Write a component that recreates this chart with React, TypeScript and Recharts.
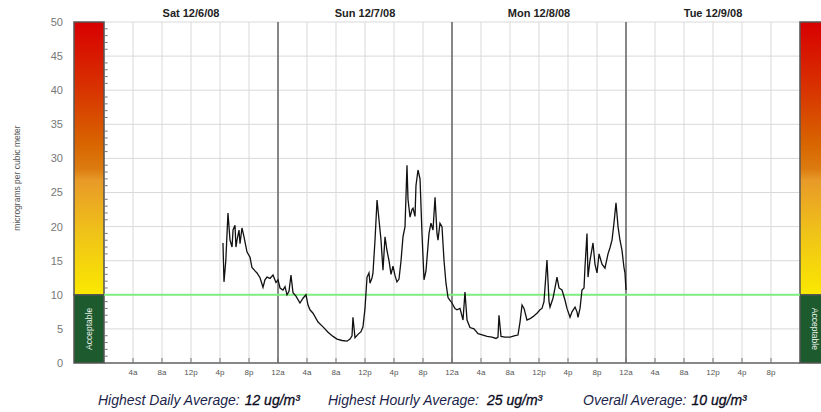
import React from "react";
import {
  ComposedChart,
  Line,
  XAxis,
  YAxis,
  CartesianGrid,
  ReferenceLine,
  ReferenceArea,
} from "recharts";

// ---- data ----
const hours = [
  16.41, 16.55, 16.8, 17.1, 17.38, 17.66, 17.8, 18.07, 18.2, 18.34, 18.62, 18.76, 19.03, 19.31, 19.72,
  20.14, 20.41, 20.83, 21.1, 21.52, 21.93, 22.2, 22.48, 22.9, 23.31, 23.72, 24.0, 24.28, 24.69, 24.97,
  25.24, 25.52, 25.79, 26.07, 26.48, 27.03, 27.45, 27.86, 28.14, 28.41, 28.83, 29.52, 30.21, 30.9, 31.59,
  32.14, 32.83, 33.52, 33.93, 34.21, 34.34, 34.62, 35.03, 35.45, 35.72, 36.0, 36.28, 36.55, 36.69, 36.97,
  37.1, 37.38, 37.66, 37.93, 38.21, 38.48, 38.76, 39.03, 39.31, 39.59, 39.86, 40.14, 40.41, 40.69, 40.97,
  41.24, 41.52, 41.79, 41.93, 42.21, 42.48, 42.62, 42.9, 43.03, 43.31, 43.59, 43.86, 44.14, 44.41, 44.83,
  45.1, 45.38, 45.66, 45.93, 46.07, 46.34, 46.62, 46.9, 47.17, 47.45, 47.72, 48.0, 48.41, 48.69, 49.1,
  49.52, 49.79, 50.07, 50.48, 51.03, 51.59, 52.28, 52.83, 53.52, 54.07, 54.34, 54.48, 54.76, 55.31, 56.0,
  56.69, 57.1, 57.38, 57.66, 57.93, 58.34, 58.76, 59.17, 59.72, 60.14, 60.41, 60.69, 61.1, 61.38, 61.52,
  61.93, 62.21, 62.48, 62.76, 63.17, 63.59, 63.86, 64.28, 64.55, 64.97, 65.24, 65.38, 65.66, 65.93, 66.21,
  66.34, 66.62, 66.76, 67.03, 67.45, 67.72, 68.0, 68.28, 68.41, 68.69, 69.1, 69.52, 69.79, 70.07, 70.34,
  70.62, 70.9, 71.17, 71.45, 71.72, 71.86, 72.0,
];
const pm25 = [
  17.6, 11.9, 15.0, 22.0, 18.0, 17.0, 19.5, 20.2, 17.0, 18.0, 19.5, 17.5, 19.8, 18.5, 16.3,
  15.5, 14.0, 13.5, 13.2, 12.5, 11.1, 12.2, 12.6, 12.4, 12.9, 11.8, 12.2, 11.0, 10.7, 11.2,
  10.0, 10.5, 12.9, 10.3, 9.8, 8.8, 9.5, 10.0, 8.5, 7.8, 7.3, 6.0, 5.3, 4.5, 3.9,
  3.5, 3.3, 3.2, 3.5, 4.0, 6.7, 3.7, 4.2, 4.6, 5.3, 8.0, 12.6, 13.2, 11.7, 12.5,
  13.2, 18.0, 23.9, 21.0, 18.0, 13.6, 18.5, 16.5, 15.0, 13.0, 14.2, 12.8, 11.9, 12.3, 15.0,
  18.5, 20.0, 29.0, 24.0, 21.4, 22.5, 22.7, 21.5, 26.0, 28.3, 27.0, 19.0, 12.2, 13.5, 19.0,
  20.5, 19.5, 24.3, 19.0, 18.0, 20.5, 20.0, 15.0, 11.7, 9.6, 9.2, 8.8, 8.0, 7.8, 8.0,
  6.3, 10.4, 6.3, 5.2, 5.0, 4.3, 4.1, 3.9, 3.8, 3.6, 3.8, 7.0, 3.9, 3.8, 3.8,
  4.0, 4.1, 6.0, 8.5, 8.0, 6.3, 6.5, 6.8, 7.3, 7.8, 8.0, 9.0, 15.1, 9.0, 8.2,
  9.5, 11.0, 12.6, 11.0, 10.7, 9.2, 8.0, 6.7, 7.5, 8.2, 7.5, 6.7, 8.0, 10.7, 11.0,
  14.0, 19.0, 12.6, 15.0, 17.6, 14.5, 13.2, 16.0, 15.5, 14.5, 13.9, 16.0, 16.9, 18.0, 20.5,
  23.5, 20.0, 18.0, 16.5, 14.0, 13.2, 10.7,
];
const yTicks = [0, 5, 10, 15, 20, 25, 30, 35, 40, 45, 50];
const minorYTicks = [1, 2, 3, 4, 6, 7, 8, 9, 11, 12, 13, 14, 16, 17, 18, 19, 21, 22, 23, 24, 26, 27, 28, 29, 31, 32, 33, 34, 36, 37, 38, 39, 41, 42, 43, 44, 46, 47, 48, 49];
const xTicks = [4, 8, 12, 16, 20, 24, 28, 32, 36, 40, 44, 48, 52, 56, 60, 64, 68, 72, 76, 80, 84, 88, 92];
const hourLabels = ["12a", "4a", "8a", "12p", "4p", "8p"];
const dayCenters = [12, 36, 60, 84];
const dayLabels = ["Sat 12/6/08", "Sun 12/7/08", "Mon 12/8/08", "Tue 12/9/08"];
const dayBoundaries = [24, 48, 72];
const acceptableLimit = 10;
const yMax = 50;
const xMax = 96;
const statLabels = ["Highest Daily Average:", "Highest Hourly Average:", "Overall Average:"];
const statValues = ["12 ug/m\u00b3", "25 ug/m\u00b3", "10 ug/m\u00b3"];

const data = hours.map((h, i) => ({ h, v: pm25[i] }));

// layout constants
const W = 821;
const H = 412;
const BAR_HOURS = 30 / 7.25; // 30px colour bar in hour units
const FONT = "'Liberation Sans', Arial, Helvetica, sans-serif";

const statLeft = [98, 328, 583];
const statGap = [5, 8, 5];

function accLabel(rotate: number) {
  return (props: any) => {
    const vb = props.viewBox || {};
    const cx = vb.x + vb.width / 2;
    const cy = vb.y + vb.height / 2;
    return (
      <text
        x={cx}
        y={cy}
        transform={`rotate(${rotate},${cx},${cy})`}
        textAnchor="middle"
        dominantBaseline="central"
        fontSize={8.5}
        fontFamily={FONT}
        fill="#e8efe8"
      >
        Acceptable
      </text>
    );
  };
}

export default function App() {
  return (
    <div style={{ position: "absolute", left: 0, top: 0, width: W, height: H, background: "#fff", fontFamily: FONT }}>
      <ComposedChart width={W} height={H} data={data} margin={{ top: 0, right: 21, bottom: 0, left: 0 }}>
        <defs>
          <linearGradient id="aqGrad" x1="0" y1="0" x2="0" y2="1">
            <stop offset="0%" stopColor="#d80000" />
            <stop offset="25%" stopColor="#d83400" />
            <stop offset="45%" stopColor="#d86600" />
            <stop offset="54%" stopColor="#dc7c10" />
            <stop offset="58%" stopColor="#e89a28" />
            <stop offset="78%" stopColor="#f0c418" />
            <stop offset="100%" stopColor="#fae800" />
          </linearGradient>
        </defs>
        <CartesianGrid stroke="#d9d9d9" strokeWidth={1} />
        <XAxis
          dataKey="h"
          type="number"
          domain={[0, xMax]}
          ticks={xTicks}
          tickFormatter={(t: number) => hourLabels[(t % 24) / 4]}
          interval={0}
          height={49}
          tickSize={-5}
          tickMargin={11}
          tickLine={{ stroke: "#777" }}
          axisLine={{ stroke: "#666", strokeWidth: 1.5 }}
          tick={{ fontSize: 8, fill: "#555", fontFamily: FONT }}
        />
        <XAxis
          xAxisId="top"
          dataKey="h"
          orientation="top"
          type="number"
          domain={[0, xMax]}
          allowDataOverflow
          ticks={dayCenters}
          tickFormatter={(t: number) => dayLabels[dayCenters.indexOf(t)]}
          interval={0}
          height={22}
          tickSize={0}
          tickMargin={5}
          tickLine={false}
          axisLine={false}
          tick={{ fontSize: 11, fill: "#222", fontWeight: "bold", fontFamily: FONT }}
        />
        <YAxis
          type="number"
          domain={[0, yMax]}
          ticks={yTicks}
          interval={0}
          width={104}
          tickSize={0}
          tickMargin={41}
          tickLine={false}
          axisLine={false}
          tick={{ fontSize: 11, fill: "#777", fontFamily: FONT }}
          label={{
            content: () => (
              <text
                x={17}
                y={178}
                transform="rotate(-90,17,178)"
                textAnchor="middle"
                dominantBaseline="central"
                fontSize={8.5}
                fontFamily={FONT}
                fill="#555"
              >
                micrograms per cubic meter
              </text>
            ),
          }}
        />
        {dayBoundaries.map((d) => (
          <ReferenceLine key={`d${d}`} x={d} stroke="#666" strokeWidth={1.5} ifOverflow="visible" />
        ))}
        <ReferenceLine y={acceptableLimit} stroke="#80ee80" strokeWidth={2} />
        {minorYTicks.map((t) => (
          <ReferenceLine
            key={`m${t}`}
            segment={[{ x: 0, y: t }, { x: 0.5, y: t }]}
            stroke="#777"
            strokeWidth={1}
            ifOverflow="visible"
          />
        ))}
        {/* left colour bar */}
        <ReferenceArea
          x1={-BAR_HOURS}
          x2={0}
          y1={acceptableLimit}
          y2={yMax}
          fill="url(#aqGrad)"
          fillOpacity={1}
          stroke="#555"
          strokeWidth={1.5}
          ifOverflow="visible"
        />
        <ReferenceArea
          x1={-BAR_HOURS}
          x2={0}
          y1={0}
          y2={acceptableLimit}
          fill="#1d5a2e"
          fillOpacity={1}
          stroke="#555"
          strokeWidth={1.5}
          ifOverflow="visible"
          label={accLabel(-90)}
        />
        {/* right colour bar */}
        <ReferenceArea
          x1={xMax}
          x2={xMax + BAR_HOURS}
          y1={acceptableLimit}
          y2={yMax}
          fill="url(#aqGrad)"
          fillOpacity={1}
          stroke="#555"
          strokeWidth={1.5}
          ifOverflow="visible"
        />
        <ReferenceArea
          x1={xMax}
          x2={xMax + BAR_HOURS}
          y1={0}
          y2={acceptableLimit}
          fill="#1d5a2e"
          fillOpacity={1}
          stroke="#555"
          strokeWidth={1.5}
          ifOverflow="visible"
          label={accLabel(90)}
        />
        <Line
          dataKey="v"
          type="linear"
          stroke="#111"
          strokeWidth={1.3}
          dot={false}
          activeDot={false}
          isAnimationActive={false}
        />
      </ComposedChart>
      {statLabels.map((s, i) => (
        <div
          key={s}
          style={{
            position: "absolute",
            left: statLeft[i],
            top: 392,
            fontSize: 14,
            fontStyle: "italic",
            whiteSpace: "nowrap",
            lineHeight: "16px",
            display: "flex",
            gap: statGap[i],
          }}
        >
          <span style={{ color: "#1c1f4a" }}>{s}</span>
          <span style={{ color: "#0a0a20", WebkitTextStroke: "0.3px #0a0a20" }}>{statValues[i]}</span>
        </div>
      ))}
    </div>
  );
}
